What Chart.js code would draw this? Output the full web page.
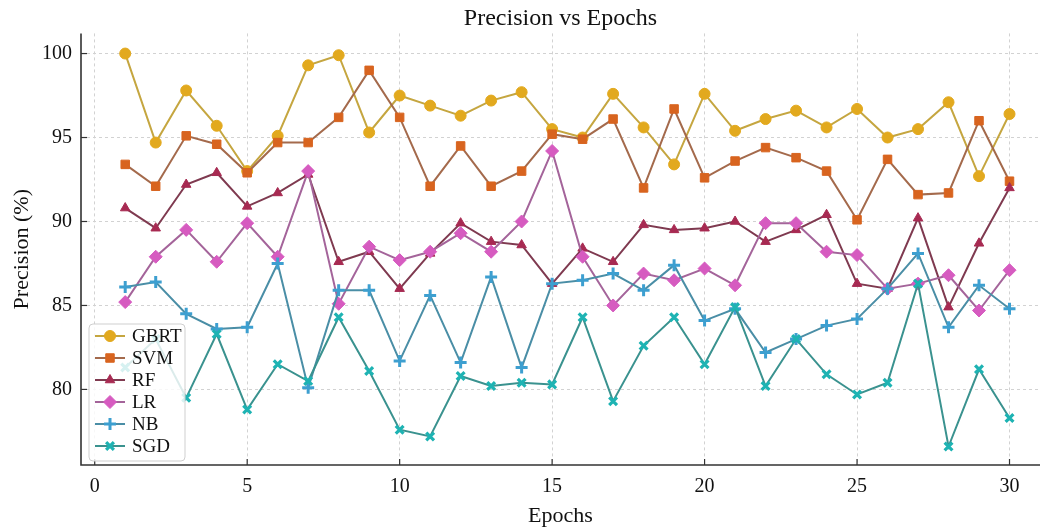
<!DOCTYPE html>
<html>
<head>
<meta charset="utf-8">
<title>Precision vs Epochs</title>
<script src="https://cdn.jsdelivr.net/npm/chart.js@4.4.0/dist/chart.umd.min.js"></script>
<style>
  html, body { margin:0; padding:0; background:#fff; }
  #wrap { width:1049px; height:529px; }
</style>
</head>
<body>
<div id="wrap"><canvas id="chart" width="1049" height="529"></canvas></div>
<script>
// data
const epochs = [1,2,3,4,5,6,7,8,9,10,11,12,13,14,15,16,17,18,19,20,21,22,23,24,25,26,27,28,29,30];
const gbrt = [100.0,94.7,97.8,95.7,93.0,95.1,99.3,99.9,95.3,97.5,96.9,96.3,97.2,97.7,95.5,95.0,97.6,95.6,93.4,97.6,95.4,96.1,96.6,95.6,96.7,95.0,95.5,97.1,92.7,96.4];
const svm  = [93.4,92.1,95.1,94.6,92.9,94.7,94.7,96.2,99.0,96.2,92.1,94.5,92.1,93.0,95.2,94.9,96.1,92.0,96.7,92.6,93.6,94.4,93.8,93.0,90.1,93.7,91.6,91.7,96.0,92.4];
const rf   = [90.8,89.6,92.2,92.9,90.9,91.7,92.8,87.6,88.2,86.0,88.1,89.9,88.8,88.6,86.3,88.4,87.6,89.8,89.5,89.6,90.0,88.8,89.5,90.4,86.3,86.0,90.2,84.9,88.7,92.0];
const lr   = [85.2,87.9,89.5,87.6,89.9,87.9,93.0,85.1,88.5,87.7,88.2,89.3,88.2,90.0,94.2,87.9,85.0,86.9,86.5,87.2,86.2,89.9,89.9,88.2,88.0,86.0,86.3,86.8,84.7,87.1];
const nb   = [86.1,86.4,84.5,83.6,83.7,87.5,80.1,85.9,85.9,81.7,85.6,81.6,86.7,81.3,86.3,86.5,86.9,85.9,87.4,84.1,84.8,82.2,83.0,83.8,84.2,86.0,88.1,83.7,86.2,84.8];
const sgd  = [81.3,83.0,79.5,83.3,78.8,81.5,80.5,84.3,81.1,77.6,77.2,80.8,80.2,80.4,80.3,84.3,79.3,82.6,84.3,81.5,84.9,80.2,83.0,80.9,79.7,80.4,86.3,76.6,81.2,78.3];

const xTicks = [0,5,10,15,20,25,30];
const yTicks = [80,85,90,95,100];

const FONT = "'Liberation Serif', 'Times New Roman', serif";

function series(label, values, line, marker, style, radius, bw){
  return {
    label,
    data: epochs.map((e,i)=>({ x:e, y:values[i] })),
    borderColor: line,
    borderWidth: 2,
    pointStyle: style,
    pointRadius: radius,
    pointBackgroundColor: marker,
    pointBorderColor: marker,
    pointBorderWidth: bw,
    tension: 0
  };
}

const datasets = [
  series("GBRT", gbrt, "#c5a640", "#e2a91e", "circle", 5.5, 1),
  series("SVM",  svm,  "#a46a4c", "#d8641f", "rect", 6, 1),
  series("RF",   rf,   "#7f3a50", "#a72a52", "triangle", 5.5, 1),
  series("LR",   lr,   "#a4649a", "#d65bc0", "rectRot", 6.5, 1),
  series("NB",   nb,   "#4a8ea6", "#3d9fd0", "cross", 6, 3),
  series("SGD",  sgd,  "#3a928f", "#1eb3b3", "crossRot", 5.5, 3.2)
];
// later series on top, like the picture
datasets.forEach((d,i)=>{ d.order = datasets.length - i; });

// spines and inward tick marks
const axesDeco = {
  id: "axesDeco",
  afterDraw(chart){
    const ctx = chart.ctx, a = chart.chartArea;
    const xs = chart.scales.x, ys = chart.scales.y;
    ctx.save();
    ctx.setLineDash([]);
    ctx.strokeStyle = "#333";
    ctx.lineWidth = 1.6;
    ctx.beginPath();
    ctx.moveTo(a.left, a.top); ctx.lineTo(a.left, a.bottom); ctx.lineTo(a.right, a.bottom);
    ctx.stroke();
    ctx.lineWidth = 1.2;
    xTicks.forEach(v=>{
      const px = xs.getPixelForValue(v);
      ctx.beginPath(); ctx.moveTo(px, a.bottom); ctx.lineTo(px, a.bottom - 6); ctx.stroke();
    });
    yTicks.forEach(v=>{
      const py = ys.getPixelForValue(v);
      ctx.beginPath(); ctx.moveTo(a.left, py); ctx.lineTo(a.left + 6, py); ctx.stroke();
    });
    ctx.restore();
  }
};

// legend box in the lower left corner of the plot
const boxLegend = {
  id: "boxLegend",
  afterDraw(chart){
    const ctx = chart.ctx, a = chart.chartArea;
    const x0 = a.left + 8, y0 = a.bottom - 141, w = 96, h = 137;
    ctx.save();
    ctx.setLineDash([]);
    ctx.fillStyle = "rgba(255,255,255,0.82)";
    ctx.strokeStyle = "#cfcfcf";
    ctx.lineWidth = 1;
    ctx.beginPath();
    ctx.roundRect(x0, y0, w, h, 4);
    ctx.fill(); ctx.stroke();
    chart.data.datasets.forEach((d,i)=>{
      const cy = y0 + 12 + i * 22;
      ctx.strokeStyle = d.borderColor;
      ctx.lineWidth = 2;
      ctx.beginPath(); ctx.moveTo(x0 + 6, cy); ctx.lineTo(x0 + 36, cy); ctx.stroke();
      ctx.fillStyle = d.pointBackgroundColor;
      ctx.strokeStyle = d.pointBorderColor;
      ctx.lineWidth = d.pointBorderWidth;
      Chart.helpers.drawPoint(ctx, { pointStyle: d.pointStyle, radius: d.pointRadius, rotation: 0, borderWidth: d.pointBorderWidth }, x0 + 21, cy);
      ctx.fillStyle = "#111";
      ctx.font = "19px " + FONT;
      ctx.textBaseline = "middle";
      ctx.textAlign = "left";
      ctx.fillText(d.label, x0 + 43, cy + 1);
    });
    ctx.restore();
  }
};

new Chart(document.getElementById("chart").getContext("2d"), {
  type: "line",
  data: { datasets },
  plugins: [axesDeco, boxLegend],
  options: {
    animation: false,
    responsive: false,
    layout: { padding: { left: 0, right: 4, top: 0, bottom: 0 } },
    plugins: {
      legend: { display: false },
      tooltip: { enabled: false },
      title: {
        display: true,
        text: "Precision vs Epochs",
        fullSize: false,
        color: "#111",
        font: { family: FONT, size: 24, weight: "normal", lineHeight: 1.1 },
        padding: { top: 6, bottom: 1 }
      }
    },
    scales: {
      x: {
        type: "linear",
        min: -0.45,
        max: 31.0,
        afterFit(s){ s.height = 64; },
        afterBuildTicks(s){ s.ticks = xTicks.map(v=>({ value: v })); },
        grid: { color: "#d2d2d2", lineWidth: 1, drawTicks: false },
        border: { display: false, dash: [3,3] },
        ticks: { color: "#111", font: { family: FONT, size: 20 }, padding: 10, maxRotation: 0 },
        title: { display: true, text: "Epochs", color: "#111", font: { family: FONT, size: 22 }, padding: { top: 2, bottom: 0 } }
      },
      y: {
        min: 75.5,
        max: 101.2,
        afterFit(s){ s.width = 81; },
        afterBuildTicks(s){ s.ticks = yTicks.map(v=>({ value: v })); },
        grid: { color: "#d2d2d2", lineWidth: 1, drawTicks: false },
        border: { display: false, dash: [3,3] },
        ticks: { color: "#111", font: { family: FONT, size: 20 }, padding: 9 },
        title: { display: true, text: "Precision (%)", color: "#111", font: { family: FONT, size: 22 }, padding: { top: 9, bottom: 2 } }
      }
    }
  }
});
</script>
</body>
</html>
